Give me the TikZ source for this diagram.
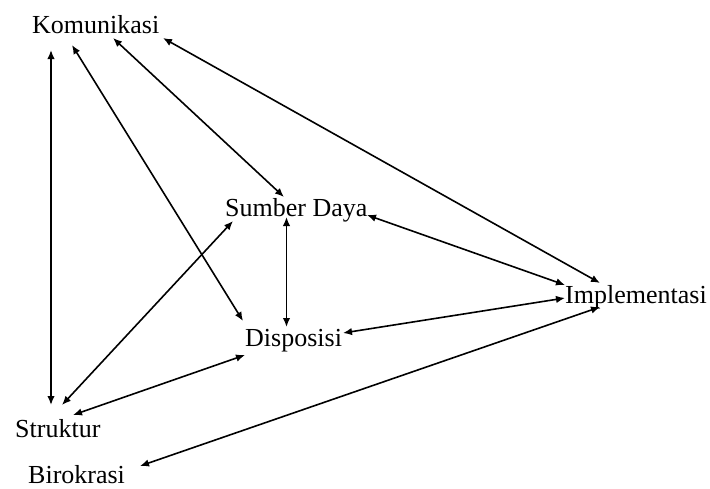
\documentclass[tikz,border=0pt]{standalone}
\usepackage{fontspec}
\setmainfont{Liberation Serif}
\usetikzlibrary{arrows.meta}
\tikzset{
  lbl/.style={anchor=base west, inner sep=0pt, font=\fontsize{26}{30}\selectfont},
  link/.style={line width=1.6pt, {Latex[length=9pt,width=7.5pt]}-{Latex[length=9pt,width=7.5pt]}}
}
\begin{document}
\begin{tikzpicture}[x=1pt, y=-1pt]
  \useasboundingbox (0,0) rectangle (710,488);
  \foreach \nm/\px/\py/\tx in {komu/32/33/Komunikasi, sumber/225/216/{Sumber Daya},
                               dispo/245/346/Disposisi, impl/565/303/Implementasi,
                               strukt/15/437/Struktur, biro/28/483/Birokrasi} {
    \node[lbl] (\nm) at (\px,\py) {\tx};
  }

  \foreach \na/\sa/\nb/\sb in {
    komu/{19,17}/strukt/{36,-32},
    komu/{40,12}/dispo/{-2,-25},
    komu/{81,5}/sumber/{59,-19},
    komu/{131,5}/impl/{35,-20},
    sumber/{61.5,1}/dispo/{41.5,-19},
    sumber/{142,-1}/impl/{0,-18},
    strukt/{47,-32}/sumber/{8,5},
    strukt/{58,-22}/dispo/{0,9},
    dispo/{98,-13}/impl/{0,-5},
    biro/{112,-17}/impl/{35,4}} {
    \draw[link] ([shift={(\sa)}]\na.base west) -- ([shift={(\sb)}]\nb.base west);
  }
\end{tikzpicture}
\end{document}
